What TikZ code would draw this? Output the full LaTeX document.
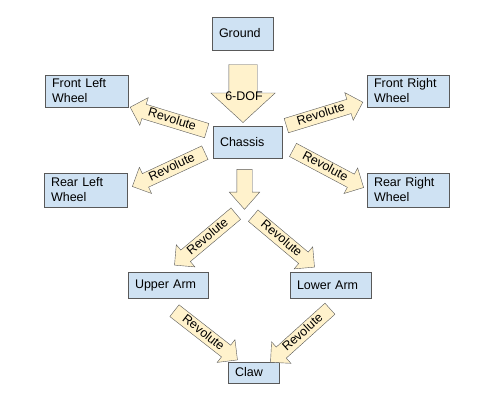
\documentclass[tikz,border=0pt]{standalone}
\usepackage{fontspec}
\setmainfont{Liberation Sans}
\usetikzlibrary{shapes.arrows}

\definecolor{boxblue}{HTML}{CFE2F3}
\definecolor{jointfill}{HTML}{FFF2CC}
\definecolor{edgegray}{HTML}{595959}

\begin{document}
\begin{tikzpicture}[
        x=1pt, y=-1pt,
        part/.style={rectangle, draw=edgegray, fill=boxblue, align=left,
                     inner xsep=7pt, inner ysep=0pt,
                     font=\fontsize{12.5}{15}\selectfont},
        joint/.style={single arrow, draw=edgegray, fill=jointfill,
                      font=\fontsize{12.5}{15}\selectfont,
                      text height=9pt, text depth=2.5pt,
                      inner xsep=2pt, inner ysep=1.5pt,
                      single arrow head extend=7pt, single arrow head indent=0pt,
                      minimum height=80pt},
        jointl/.style={joint, shape border rotate=180},
        bigarrow/.style={single arrow, draw=edgegray, fill=jointfill, rotate=-90,
                         text height=0pt, text depth=0pt, inner xsep=0pt}
    ]
        \useasboundingbox (0,0) rectangle (500,407);

        % bodies
        \node[part, text width=47pt, minimum height=33pt] (ground) at (242.5,33.5) {Ground};
        \node[part, text width=69pt, minimum height=32pt] (flw) at (86.5,91) {Front Left\\Wheel};
        \node[part, text width=68pt, minimum height=32pt] (frw) at (408,91) {Front Right\\Wheel};
        \node[part, text width=55pt, minimum height=32pt] (chassis) at (247.5,142) {Chassis};
        \node[part, text width=69pt, minimum height=34pt] (rlw) at (85.5,190) {Rear Left\\Wheel};
        \node[part, text width=68pt, minimum height=34pt] (rrw) at (408,190) {Rear Right\\Wheel};
        \node[part, text width=66pt, minimum height=26pt] (upper) at (168,285) {Upper Arm};
        \node[part, text width=67pt, minimum height=26pt] (lower) at (330.5,285) {Lower Arm};
        \node[part, text width=37pt, minimum height=21pt] (claw) at (253.5,372.5) {Claw};

        % joints
        \node[bigarrow, minimum height=58pt, inner ysep=14pt,
              single arrow head extend=18pt, single arrow tip angle=95] (dof) at (243,87) {};
        \node[font=\fontsize{12.5}{15}\selectfont] (doflabel) at (244,96) {6-DOF};
        \node[bigarrow, minimum height=40pt, inner ysep=7.5pt,
              single arrow head extend=7.5pt, single arrow tip angle=83] (down) at (244.5,185) {};

        \node[jointl, rotate=-17] (jfl) at (172,120) {Revolute};
        \node[joint, rotate=17] (jfr) at (321,115) {Revolute};
        \node[jointl, rotate=25] (jrl) at (172,168) {Revolute};
        \node[joint, rotate=-28] (jrr) at (325,167) {Revolute};
        \node[jointl, rotate=40] (jua) at (208,237) {Revolute};
        \node[joint, rotate=-40] (jla) at (281,239) {Revolute};
        \node[joint, rotate=-38] (juc) at (203,333) {Revolute};
        \node[jointl, rotate=42] (jlc) at (303,333) {Revolute};
    \end{tikzpicture}
\end{document}
